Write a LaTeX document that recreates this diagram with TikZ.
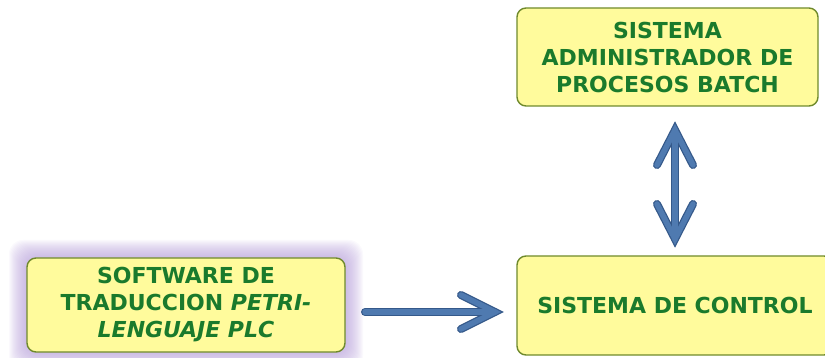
\documentclass[tikz,border=0pt]{standalone}
\usepackage{fontspec}
\setmainfont{DejaVu Sans}
\usetikzlibrary{arrows.meta,calc}

\definecolor{boxfill}{HTML}{FFFB9C}
\definecolor{boxline}{HTML}{6F8A2C}
\definecolor{txtgreen}{HTML}{1A7A2C}
\definecolor{arrblue}{HTML}{4F7AB0}
\definecolor{arrdark}{HTML}{35598A}
\definecolor{glowc}{HTML}{B49CD8}

\begin{document}
\begin{tikzpicture}[x=1pt,y=-1pt,
	block/.style={draw=boxline, line width=1.4pt, fill=boxfill, rounded corners=9pt,
		align=center, text=txtgreen, font=\fontsize{22}{27}\selectfont\bfseries,
		inner sep=0pt},
	arrout/.style={draw=arrdark, line width=8pt, line cap=round},
	arrin/.style={draw=arrblue, line width=5.5pt, line cap=round}]
	\useasboundingbox (0,0) rectangle (825,358);

	% glow round the software box
	\foreach \g in {1,...,18}
		\fill[glowc, opacity=0.06, rounded corners=14pt] (27-\g,258-\g) rectangle (345+\g,352+\g);

	\node[block, minimum width=318pt, minimum height=94pt] (soft) at (186,305)
		{SOFTWARE DE\\TRADUCCION \textit{PETRI-}\\\textit{LENGUAJE PLC}};
	\node[block, minimum width=301pt, minimum height=98pt] (batch) at (667.5,57)
		{SISTEMA\\ADMINISTRADOR DE\\PROCESOS BATCH};
	\node[block, minimum width=316pt, minimum height=99pt] (ctrl) at (675,305.5)
		{SISTEMA DE CONTROL};

	% arrows
	\coordinate (h0) at (365,312);
	\coordinate (h1) at (495,312);
	\coordinate (v0) at (675,130);
	\coordinate (v1) at (675,239);
	\foreach \s in {arrout,arrin} {
		\draw[\s] (h0) -- (h1);
		\draw[\s] ($(h1)+(-34,-17)$) -- (h1) -- ($(h1)+(-34,17)$);
		\draw[\s] (v0) -- (v1);
		\draw[\s] ($(v0)+(-18,35)$) -- (v0) -- ($(v0)+(18,35)$);
		\draw[\s] ($(v1)+(-18,-35)$) -- (v1) -- ($(v1)+(18,-35)$);
	}
\end{tikzpicture}
\end{document}
